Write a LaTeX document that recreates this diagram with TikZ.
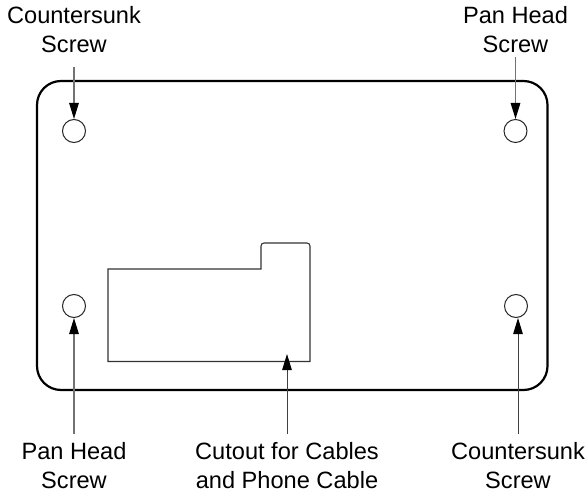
\documentclass[tikz,border=0pt]{standalone}
\usepackage{fontspec}
\setmainfont{Liberation Sans}
\usetikzlibrary{arrows.meta}
\tikzset{
  lbl/.style={align=center,inner sep=0pt,font=\fontsize{23.6}{29}\selectfont},
  hole/.style={circle,draw=black!85,line width=1pt,minimum size=23pt,inner sep=0pt},
  pointer/.style={draw=black!55,line width=1.4pt,-{Triangle[length=16pt,width=9.5pt,fill=black,color=black]}},
  pointerthin/.style={draw=black!75,line width=1pt,-{Triangle[length=16pt,width=9.5pt,fill=black,color=black]}},
  plate/.style={draw=black,line width=2.2pt,rounded corners=24pt},
  cutout/.style={draw=black!80,line width=1.1pt}
}
\begin{document}
\begin{tikzpicture}[x=1pt,y=-1pt]
\useasboundingbox (0,0) rectangle (588,494);
\draw[plate] (37,81) rectangle (547.5,390);
\draw[cutout] (108,361.5) -- (108,269) -- (261,269) [rounded corners=3pt] -- (261,243) -- (310,243) [sharp corners] -- (310,361.5) -- cycle;
\node[hole] (h1) at (74,131) {};
\node[hole] (h2) at (515.5,131) {};
\node[hole] (h3) at (74,306) {};
\node[hole] (h4) at (516,306) {};
\node[lbl] (t1) at (74,29.5) {Countersunk\\Screw};
\node[lbl] (t2) at (515.5,29.5) {Pan Head\\Screw};
\node[lbl] (t3) at (74,466) {Pan Head\\Screw};
\node[lbl] (t4) at (287,466) {Cutout for Cables\\and Phone Cable};
\node[lbl] (t5) at (518,466) {Countersunk\\Screw};
\coordinate (c) at (287,354);
\coordinate (a1) at (74,67);
\coordinate (a2) at (515.5,57);
\coordinate (a3) at (74,434);
\coordinate (a4) at (287,434);
\coordinate (a5) at (518,434);
\coordinate (e5) at (518,318);
\draw[pointer] (a1) -- (h1);
\draw[pointer] (a2) -- (h2);
\draw[pointer] (a3) -- (h3);
\draw[pointerthin] (a4) -- (c);
\draw[pointerthin] (a5) -- (e5);
\end{tikzpicture}
\end{document}
